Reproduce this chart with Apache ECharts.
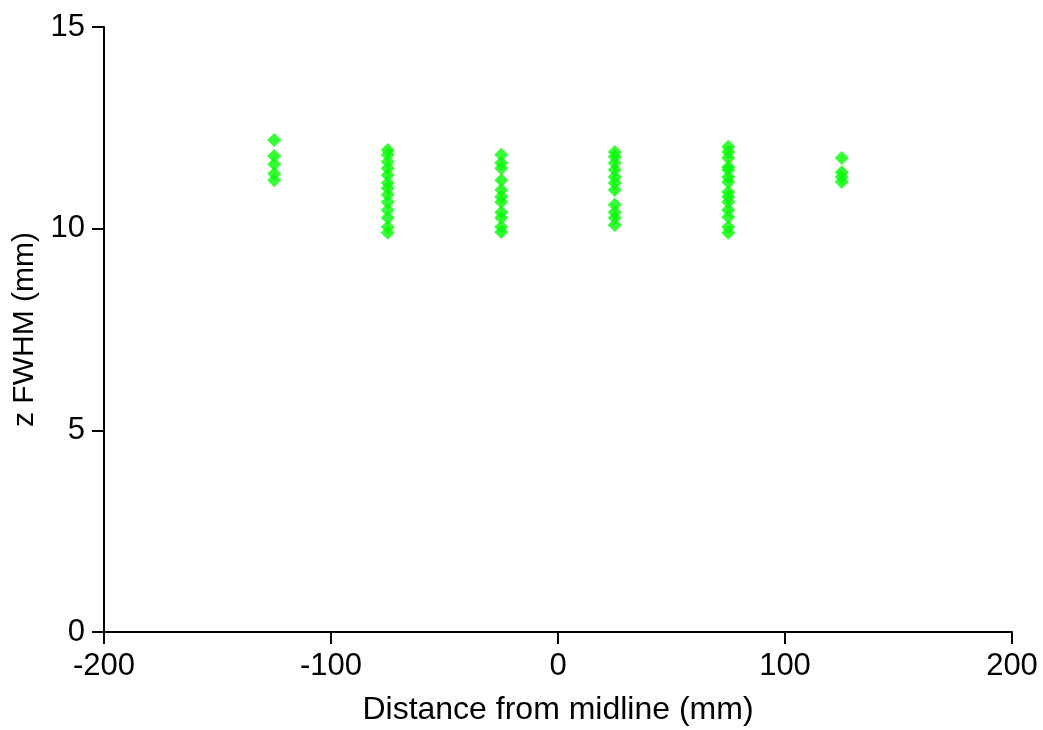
<!DOCTYPE html>
<html>
<head>
<meta charset="utf-8">
<script src="https://cdn.jsdelivr.net/npm/echarts@6/dist/echarts.min.js"></script>
<style>html,body{margin:0;padding:0;background:#fff;}#c{width:1043px;height:730px;}</style>
</head>
<body>
<div id="c"></div>
<script>
const xTicks = [-200, -100, 0, 100, 200];
const yTicks = [0, 5, 10, 15];
const colM125 = [12.2, 11.8, 11.6, 11.36, 11.2];
const colM75 = [11.95, 11.83, 11.66, 11.5, 11.33, 11.13, 11.0, 10.84, 10.66, 10.46, 10.27, 10.04, 9.9];
const colM25 = [11.83, 11.63, 11.5, 11.2, 10.96, 10.79, 10.66, 10.41, 10.27, 10.04, 9.92];
const colP25 = [11.9, 11.78, 11.63, 11.46, 11.28, 11.13, 10.96, 10.59, 10.41, 10.27, 10.09];
const colP75 = [12.03, 11.9, 11.75, 11.53, 11.46, 11.28, 11.16, 10.91, 10.79, 10.66, 10.46, 10.29, 10.04, 9.9];
const colP125 = [11.75, 11.4, 11.28, 11.16];
const positions = [-125, -75, -25, 25, 75, 125];
const columns = [colM125, colM75, colM25, colP25, colP75, colP125];

const data = [];
columns.forEach((col, i) => col.forEach(v => data.push([positions[i], v])));

const font = 'Liberation Sans, Arial, sans-serif';
const chart = echarts.init(document.getElementById('c'));
chart.setOption({
  animation: false,
  backgroundColor: '#fff',
  grid: {left: 104, right: 31, top: 27, bottom: 98, containLabel: false, outerBoundsMode: 'none'},
  xAxis: {
    type: 'value', min: xTicks[0], max: xTicks[xTicks.length - 1], interval: 100,
    name: 'Distance from midline (mm)', nameLocation: 'middle', nameGap: 62,
    nameTextStyle: {fontSize: 32, color: '#000', fontFamily: font},
    axisLine: {show: true, onZero: false, lineStyle: {color: '#000', width: 2}},
    axisTick: {show: true, length: 12, lineStyle: {color: '#000', width: 2}},
    axisLabel: {fontSize: 31, color: '#000', fontFamily: font, margin: 19},
    splitLine: {show: false}
  },
  yAxis: {
    type: 'value', min: yTicks[0], max: yTicks[yTicks.length - 1], interval: 5,
    name: 'z FWHM (mm)', nameLocation: 'middle', nameGap: 57,
    nameTextStyle: {fontSize: 30, color: '#000', fontFamily: font},
    axisLine: {show: true, onZero: false, lineStyle: {color: '#000', width: 2}},
    axisTick: {show: true, length: 12, lineStyle: {color: '#000', width: 2}},
    axisLabel: {fontSize: 31, color: '#000', fontFamily: font, margin: 19},
    splitLine: {show: false}
  },
  series: [{
    type: 'scatter',
    symbol: 'diamond',
    symbolSize: 14,
    itemStyle: {color: '#00ff00'},
    data: data
  }]
});
</script>
</body>
</html>
